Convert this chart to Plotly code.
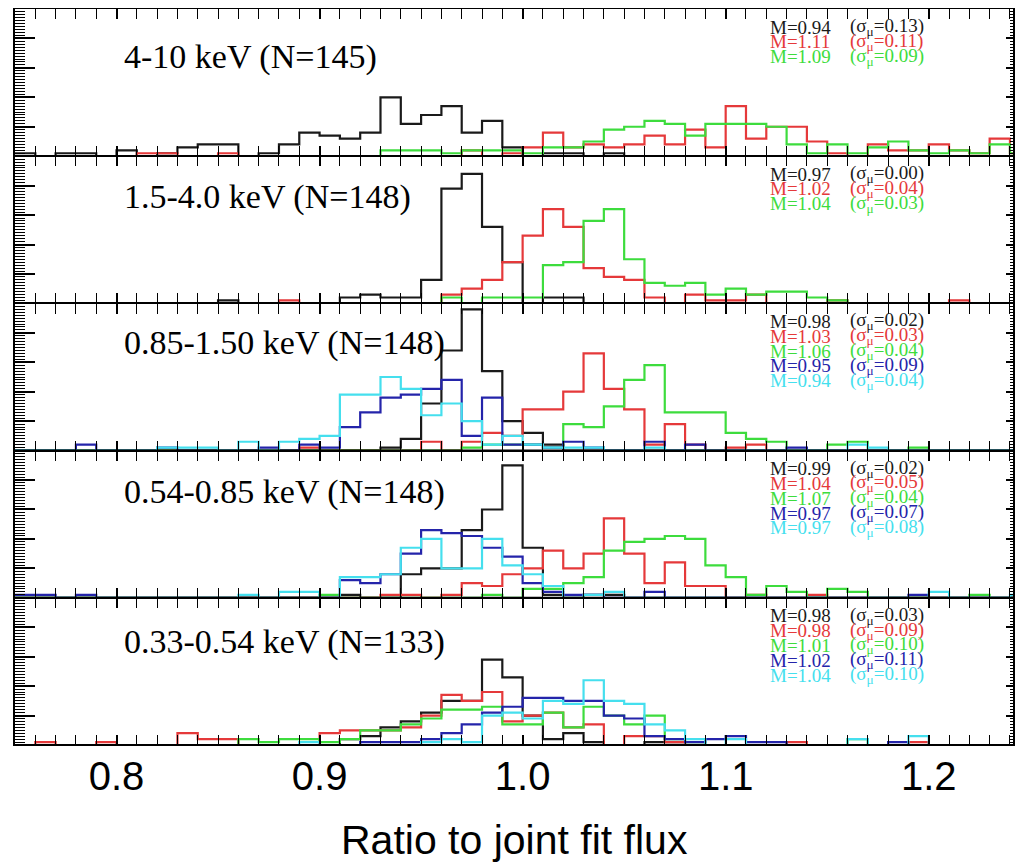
import numpy as np
import plotly.graph_objects as go

# ---------------- data ----------------
BIN_START = 0.75
BIN_WIDTH = 0.01
N_BINS = 50
X_RANGE = [0.75, 1.2415]

colors = {"black": "#1a1a1a", "red": "#e5393a", "green": "#3ddc3d",
          "blue": "#2424aa", "cyan": "#45dfee"}

panel_labels = ["4-10 keV (N=145)", "1.5-4.0 keV (N=148)", "0.85-1.50 keV (N=148)",
                "0.54-0.85 keV (N=148)", "0.33-0.54 keV (N=133)"]

Z10 = [0] * 10

# panel 1 : 4-10 keV
p1_black = [1,0,1,1,0,2,0,1,3,4, 4,0,1,4,8,7,6,8,20,11, 14,17,8,12,3,0,1,1,0,1] + Z10 + Z10
p1_red = [0,0,0,0,0,0,1,1,0,0, 1,0,0,0,0,0,0,0,0,0, 0,0,2,0,1,3,8,3,4,3,
          4,7,4,9,3,17,6,10,10,5, 1,0,4,2,2,4,2,1,6,1]
p1_green = Z10 + [0,0,0,0,0,0,0,0,2,2, 2,1,2,2,2,1,3,3,5,9,
                  10,12,11,7,11,11,11,10,4,1, 4,1,3,5,2,1,2,1,4,1]

# panel 2 : 1.5-4.0 keV
p2_black = Z10 + [1,0,0,0,0,0,2,3,2,2, 8,39,44,26,14,0,2,2,0,0] + Z10 + Z10
p2_red = Z10 + [0,0,0,1,0,0,0,0,0,0, 0,3,5,8,14,23,32,26,12,9,
                8,2,0,3,1,1,3,0,0,0, 1,0,0,0,0,0,1,0,0,0]
p2_green = Z10 + Z10 + [0,2,0,2,2,2,13,14,28,32, 15,7,6,7,3,5,3,4,4,2, 1,0,0,0,0,0,0,0,0,0]

# panel 3 : 0.85-1.50 keV
p3_black = Z10 + [0,0,0,0,0,0,0,0,1,4, 16,34,48,27,10,6,2,0,0,0] + Z10 + Z10
p3_red = Z10 + [0,0,0,0,1,0,0,0,0,0, 3,0,3,6,5,14,14,20,33,21,
                14,2,9,2,0,1,2,0,0,0] + Z10
p3_green = Z10 + Z10 + [0,0,1,2,2,2,1,9,8,15, 24,29,13,13,13,6,4,3,0,0,
                        2,3,0,0,1,0,0,0,0,0]
p3_blue = [0,0,0,2,0,0,0,1,0,0, 0,0,1,0,2,1,8,13,18,19, 21,24,5,18,2,2,1,3,1,0,
           0,3,0,2,0,0,0,0,1,0] + Z10
p3_cyan = [0,0,0,0,0,0,0,1,1,1, 0,3,0,3,4,5,19,19,25,21, 12,16,10,2,5,2,1,1,1,0,
           0,1,0,0,0,0,0,0,0,0, 0,2,1,0,0,0,0,0,0,0]

# panel 4 : 0.54-0.85 keV
p4_black = Z10 + [0,0,0,0,0,0,1,0,0,8, 10,10,23,30,45,17,1,0,1,1] + Z10 + Z10
p4_red = Z10 + [0,0,0,0,0,0,0,0,1,1, 0,1,5,4,8,10,16,10,15,27,
                15,5,12,4,4,0,1,0,0,1] + Z10
p4_green = Z10 + [0,0,0,0,0,1,0,0,0,0, 0,0,0,1,0,3,3,5,7,16,
                  19,20,21,20,11,7,1,4,2,0, 3,2,0,0,0,0,0,1,0,0]
p4_blue = [1,1,0,1,0,0,0,0,0,0, 0,0,0,0,0,0,6,5,8,15, 23,22,21,17,14,5,2,1,1,0,
           0,2,0,0,0,0,0,0,0,0, 0,0,0,0,1,0,0,0,0,0]
p4_cyan = Z10 + [0,1,0,2,2,0,7,7,8,17, 20,10,10,20,11,8,4,0,1,2,
                 0,0,0,0,0,0,0,0,0,0, 0,0,0,0,0,2,0,0,0,1]

# panel 5 : 0.33-0.54 keV
p5_black = Z10 + [0,0,0,0,0,0,2,3,6,8, 11,15,15,29,23,10,2,4,1,0,
                  0,1,1,0,0,0,0,0,0,0] + Z10
p5_red = [0,1,0,0,1,0,0,0,4,2, 2,0,0,0,0,4,5,5,5,6, 10,17,15,18,8,10,11,6,7,0,
          3,3,1,0,0,0,0,0,1,0, 0,0,0,0,1,0,0,0,0,0]
p5_green = Z10 + [0,2,1,2,2,1,2,5,5,7, 9,12,12,13,7,7,11,6,13,10,
                  7,10,2,1,0,0,0,0,0,0, 0,2,0,0,0,0,0,0,0,0]
p5_blue = Z10 + [0,0,0,0,0,0,0,1,1,1, 2,4,7,11,13,16,16,15,15,10,
                 9,3,2,1,2,3,1,1,0,0, 0,0,0,1,0,0,0,0,0,0]
p5_cyan = Z10 + [0,0,0,0,1,0,0,0,0,0, 1,2,1,10,11,9,15,14,22,15,
                 14,7,5,2,0,2,0,0,0,0, 0,2,0,0,3,0,0,0,0,0]

panels = [
    [("black", p1_black), ("red", p1_red), ("green", p1_green)],
    [("black", p2_black), ("red", p2_red), ("green", p2_green)],
    [("black", p3_black), ("red", p3_red), ("green", p3_green), ("blue", p3_blue), ("cyan", p3_cyan)],
    [("black", p4_black), ("red", p4_red), ("green", p4_green), ("blue", p4_blue), ("cyan", p4_cyan)],
    [("black", p5_black), ("red", p5_red), ("green", p5_green), ("blue", p5_blue), ("cyan", p5_cyan)],
]

# stats: (mean M, sigma_mu) per series
stats = [
    [(0.94, 0.13), (1.11, 0.11), (1.09, 0.09)],
    [(0.97, 0.00), (1.02, 0.04), (1.04, 0.03)],
    [(0.98, 0.02), (1.03, 0.03), (1.06, 0.04), (0.95, 0.09), (0.94, 0.04)],
    [(0.99, 0.02), (1.04, 0.05), (1.07, 0.04), (0.97, 0.07), (0.97, 0.08)],
    [(0.98, 0.03), (0.98, 0.09), (1.01, 0.10), (1.02, 0.11), (1.04, 0.10)],
]
stat_colors = ["black", "red", "green", "blue", "cyan"]

x_ticks = [0.8, 0.9, 1.0, 1.1, 1.2]
x_title = "Ratio to joint fit flux"

# ---------------- figure ----------------
W, H = 1025, 865
ML, MR, MT, MB = 15, 12, 9, 120
Y_MAX = 50
NP = 5
panel_px = (H - MT - MB) / NP
px_per_count = panel_px / Y_MAX

edges = np.round(BIN_START + BIN_WIDTH * np.arange(N_BINS + 1), 3)

fig = go.Figure()


def aid(n):
    return "" if n == 1 else str(n)


label_y_off = [47.5, 40.5, 39.5, 41.5, 44.5]  # px from panel top to label centre
SERIF = "Liberation Serif, Times New Roman, serif"
SANS = "Liberation Sans, Arial, sans-serif"

layout = {}
annotations = []
shapes = []
for i, series in enumerate(panels):
    n = i + 1
    xa, ya, yr = "x" + aid(n), "y" + aid(n), "y" + str(n + NP)
    for cname, counts in series:
        fig.add_trace(go.Scatter(
            x=list(edges), y=list(counts) + [counts[-1]],
            mode="lines", line=dict(color=colors[cname], width=2.2, shape="hv"),
            xaxis=xa, yaxis=ya, showlegend=False, hoverinfo="skip"))
    # dummy trace for right-side tick axis
    fig.add_trace(go.Scatter(x=[None], y=[None], xaxis=xa, yaxis=yr,
                             showlegend=False, hoverinfo="skip"))
    top = 1 - i / NP
    bot = 1 - (i + 1) / NP
    layout["xaxis" + aid(n)] = dict(
        domain=[0, 1], anchor=ya, range=X_RANGE,
        tickmode="array", tickvals=x_ticks, ticktext=[f"{v:.1f}" for v in x_ticks],
        ticks="inside", ticklen=10, tickwidth=1.5, tickcolor="black",
        minor=dict(dtick=BIN_WIDTH, tick0=BIN_START, ticks="inside", ticklen=5,
                   tickwidth=1, tickcolor="black"),
        showline=True, linewidth=1.2, linecolor="black", mirror="allticks",
        showgrid=False, zeroline=False,
        showticklabels=(n == NP),
        tickfont=dict(family=SANS, size=40, color="black"),
        ticklabelstandoff=-4,
    )
    layout["yaxis" + aid(n)] = dict(
        domain=[bot, top], anchor=xa, range=[0, Y_MAX],
        dtick=10, tick0=0, ticks="inside", ticklen=20, tickwidth=1.5, tickcolor="black",
        minor=dict(dtick=1, ticks="inside", ticklen=10, tickwidth=1, tickcolor="black"),
        showline=True, linewidth=1.5, linecolor="black", mirror=True,
        showgrid=False, zeroline=False, showticklabels=False,
    )
    layout["yaxis" + str(n + NP)] = dict(
        overlaying=ya, side="right", anchor=xa, range=[0, Y_MAX],
        dtick=10, tick0=0, ticks="inside", ticklen=7, tickwidth=1.5, tickcolor="black",
        minor=dict(dtick=1, ticks="inside", ticklen=3, tickwidth=1, tickcolor="black"),
        showline=False, showgrid=False, zeroline=False, showticklabels=False,
    )
    # baseline drawn over the histograms (hides zero-count bins, like the original)
    shapes.append(dict(type="line", xref=xa + " domain", yref=ya, x0=0, x1=1, y0=0, y1=0,
                       line=dict(color="black", width=2), layer="above"))
    # panel label
    annotations.append(dict(
        text=panel_labels[i], xref=xa, yref=ya, x=0.8025,
        y=Y_MAX - label_y_off[i] / px_per_count,
        xanchor="left", yanchor="middle", showarrow=False,
        font=dict(family=SERIF, size=34, color="black")))
    # stats lines
    for j, (m, s) in enumerate(stats[i]):
        yv = Y_MAX - (18 + 14.8 * j) / px_per_count
        col = colors[stat_colors[j]]
        f = dict(family=SERIF, size=19, color=col)
        annotations.append(dict(text=f"M={m:.2f}", xref=xa, yref=ya, x=1.1207, y=yv,
                                xanchor="left", yanchor="middle", showarrow=False, font=f))
        annotations.append(dict(text=f"(σ<sub>μ</sub>={s:.2f})", xref=xa, yref=ya, x=1.1601,
                                y=yv, xanchor="left", yanchor="middle", showarrow=False, font=f))

annotations.append(dict(
    text=x_title, xref="paper", yref="paper", x=0.501,
    y=-(840 - (H - MB)) / (H - MT - MB),
    xanchor="center", yanchor="middle", showarrow=False,
    font=dict(family=SANS, size=41, color="black")))

fig.update_layout(
    width=W, height=H,
    margin=dict(l=ML, r=MR, t=MT, b=MB, pad=0),
    paper_bgcolor="white", plot_bgcolor="white",
    showlegend=False, annotations=annotations, shapes=shapes, **layout)

fig.write_html("out.html")
